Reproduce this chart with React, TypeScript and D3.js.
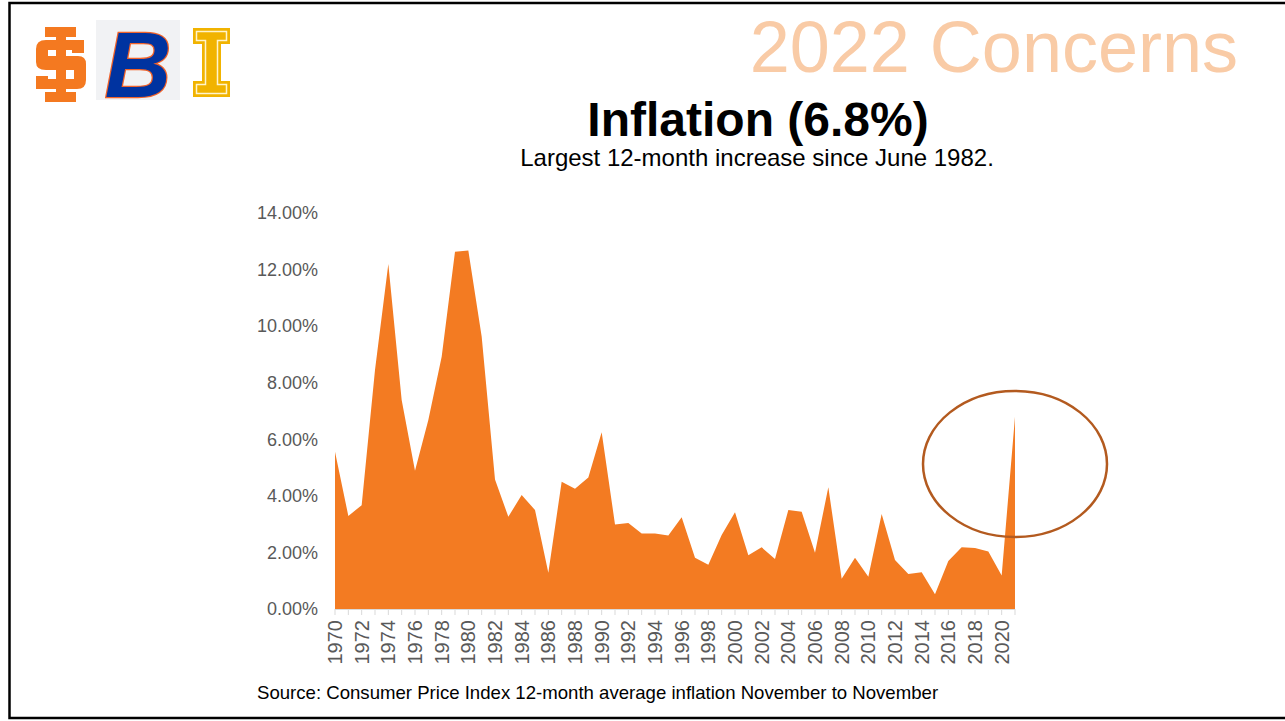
import React from "react";
import * as d3 from "d3";

const years: number[] = d3.range(1970, 2022);
const inflation: number[] = [
  5.56, 3.29, 3.67, 8.45, 12.2, 7.39, 4.89, 6.68, 8.92, 12.63,
  12.67, 9.63, 4.58, 3.26, 4.03, 3.5, 1.28, 4.5, 4.25, 4.65,
  6.25, 2.99, 3.04, 2.67, 2.67, 2.6, 3.24, 1.81, 1.56, 2.62,
  3.42, 1.9, 2.18, 1.77, 3.5, 3.44, 1.99, 4.3, 1.07, 1.81,
  1.14, 3.36, 1.73, 1.24, 1.3, 0.52, 1.7, 2.18, 2.16, 2.03,
  1.18, 6.8,
];
const yTicks: number[] = [0, 2, 4, 6, 8, 10, 12, 14];
const xLabelYears: number[] = d3.range(1970, 2021, 2);

const FONT = "'Liberation Sans', Arial, sans-serif";

export default function App() {
  const x = d3.scaleLinear().domain([1970, 2021]).range([335, 1015]);
  const y = d3.scaleLinear().domain([0, 14]).range([609, 213]);
  const data = years.map((yr, i) => ({ yr, v: inflation[i] }));
  const area = d3
    .area<{ yr: number; v: number }>()
    .x((d) => x(d.yr))
    .y0(y(0))
    .y1((d) => y(d.v));

  return (
    <svg
      width={1285}
      height={721}
      style={{ position: "absolute", left: 0, top: 0, background: "#fff" }}
      fontFamily={FONT}
    >
      <rect x={0} y={0} width={1285} height={721} fill="#fff" />
      {/* slide frame */}
      <path d="M1290,3 L9.5,3 L9.5,718 L1290,718" fill="none" stroke="#000" strokeWidth={2.5} />

      {/* Idaho State IS logo */}
      <g fill="#F47920">
        <rect x={45} y={27} width={31} height={10} />
        <rect x={56} y={27} width={10} height={75} />
        <rect x={45} y={92} width={31} height={10} />
        <path d="M46,40 L84,40 L84,53 L72,53 L72,50 L48,50 L48,56 L78,56 Q86,56 86,64 L86,80 Q86,89 77,89 L36,89 L36,76 L48,76 L48,79 L74,79 L74,70 L46,70 Q36,70 36,62 L36,49 Q36,40 46,40 Z" />
      </g>

      {/* Boise State B logo */}
      <rect x={96} y={20} width={84} height={80} fill="#F1F2F4" />
      <text
        x={138}
        y={97}
        textAnchor="middle"
        fontSize={92}
        fontWeight="bold"
        fontStyle="italic"
        fill="#0033A0"
        stroke="#F1632A"
        strokeWidth={2.5}
        paintOrder="stroke"
        fontFamily={FONT}
      >
        B
      </text>

      {/* Idaho I logo */}
      <path
        d="M193,28 L230,28 L230,44 L221,44 L221,81 L230,81 L230,97 L193,97 L193,81 L202,81 L202,44 L193,44 Z"
        fill="#F1B300"
      />
      <path
        d="M196.5,31.5 L226.5,31.5 L226.5,40.5 L217.5,40.5 L217.5,84.5 L226.5,84.5 L226.5,93.5 L196.5,93.5 L196.5,84.5 L205.5,84.5 L205.5,40.5 L196.5,40.5 Z"
        fill="none"
        stroke="#FFF4CC"
        strokeWidth={1.5}
      />

      {/* headings */}
      <text x={1238} y={72} textAnchor="end" fontSize={72} fill="#F9CBA6">
        2022 Concerns
      </text>
      <text x={758} y={136} textAnchor="middle" fontSize={48} fontWeight="bold" fill="#000">
        Inflation (6.8%)
      </text>
      <text x={757} y={166} textAnchor="middle" fontSize={24} fill="#000">
        Largest 12-month increase since June 1982.
      </text>

      {/* area */}
      <path d={area(data) || ""} fill="#F37B22" />

      {/* y axis labels */}
      {yTicks.map((t) => (
        <text
          key={t}
          x={318}
          y={y(t)}
          dy="0.35em"
          textAnchor="end"
          fontSize={18}
          fill="#595959"
        >
          {t.toFixed(2) + "%"}
        </text>
      ))}

      {/* x axis */}
      <line x1={x(1970)} x2={x(2021)} y1={609.5} y2={609.5} stroke="#D9D9D9" strokeWidth={1} />
      {years.map((yr) => (
        <line
          key={yr}
          x1={x(yr)}
          x2={x(yr)}
          y1={609}
          y2={615}
          stroke="#D9D9D9"
          strokeWidth={1}
        />
      ))}
      {xLabelYears.map((yr) => (
        <text
          key={yr}
          transform={`translate(${x(yr)},620) rotate(-90)`}
          textAnchor="end"
          dy="0.35em"
          fontSize={20}
          fill="#595959"
        >
          {yr}
        </text>
      ))}

      {/* highlight ellipse */}
      <ellipse
        cx={x(2021)}
        cy={464}
        rx={92}
        ry={73}
        fill="none"
        stroke="#B35A1F"
        strokeWidth={2.5}
      />

      {/* source */}
      <text x={257} y={699} fontSize={18.6} fill="#000">
        Source: Consumer Price Index 12-month average inflation November to November
      </text>
    </svg>
  );
}
